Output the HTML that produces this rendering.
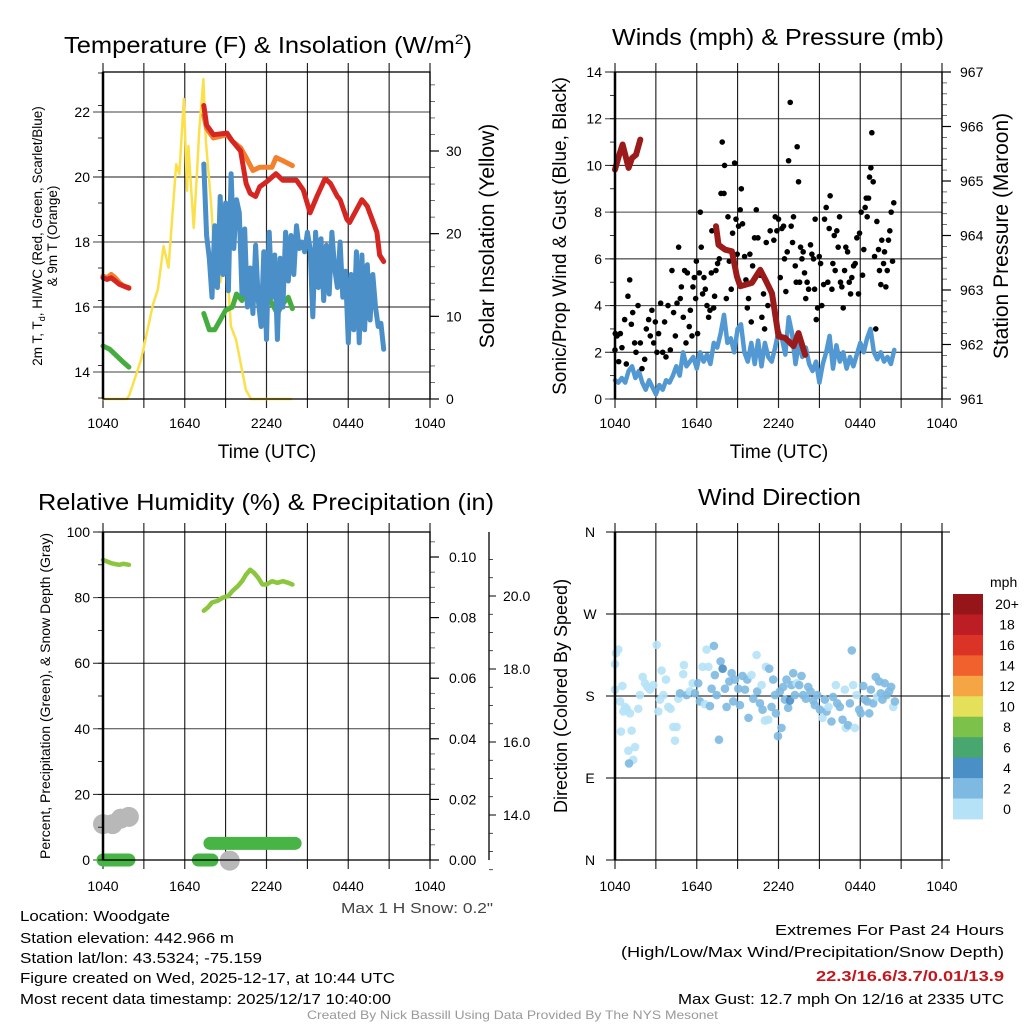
<!DOCTYPE html>
<html><head><meta charset="utf-8"><style>
html,body{margin:0;padding:0;background:#fff;}
svg{display:block;font-family:"Liberation Sans Narrow","Liberation Sans",sans-serif;}
</style></head><body>
<svg id="fig" width="1024" height="1024" viewBox="0 0 1024 1024" xmlns="http://www.w3.org/2000/svg">
<rect width="1024" height="1024" fill="#fff"/>
<g id="g-grid"></g>
<g id="g-data"></g>
<g id="g-axes"></g>
<g id="g-text">
<text x="64" y="53" font-size="23" textLength="408" lengthAdjust="spacingAndGlyphs">Temperature (F) &amp; Insolation (W/m<tspan font-size="14" dy="-9">2</tspan><tspan dy="9">)</tspan></text>
<text x="612" y="45" font-size="23" textLength="332" lengthAdjust="spacingAndGlyphs">Winds (mph) &amp; Pressure (mb)</text>
<text x="38" y="510" font-size="23" textLength="456" lengthAdjust="spacingAndGlyphs">Relative Humidity (%) &amp; Precipitation (in)</text>
<text x="698" y="505" font-size="23" textLength="163" lengthAdjust="spacingAndGlyphs">Wind Direction</text>

<text x="267" y="458" font-size="19" text-anchor="middle">Time (UTC)</text>
<text x="779" y="458" font-size="19" text-anchor="middle">Time (UTC)</text>

<text transform="translate(42,236) rotate(-90)" font-size="13.5" text-anchor="middle">2m T, T<tspan font-size="9" dy="3">d</tspan><tspan dy="-3">, HI/WC (Red, Green, Scarlet/Blue)</tspan></text>
<text transform="translate(57,236) rotate(-90)" font-size="13.5" text-anchor="middle">&amp; 9m T (Orange)</text>
<text transform="translate(494,236) rotate(-90)" font-size="21" text-anchor="middle">Solar Insolation (Yellow)</text>
<text transform="translate(566,236) rotate(-90)" font-size="19" text-anchor="middle">Sonic/Prop Wind &amp; Gust (Blue, Black)</text>
<text transform="translate(1008,236) rotate(-90)" font-size="21" text-anchor="middle">Station Pressure (Maroon)</text>
<text transform="translate(50,696) rotate(-90)" font-size="14" text-anchor="middle">Percent, Precipitation (Green), &amp; Snow Depth (Gray)</text>
<text transform="translate(567,696) rotate(-90)" font-size="18" text-anchor="middle">Direction (Colored By Speed)</text>

<text x="493" y="913" font-size="15" text-anchor="end" fill="#444" textLength="152" lengthAdjust="spacingAndGlyphs">Max 1 H Snow: 0.2"</text>
<text x="20" y="921" font-size="15" textLength="150" lengthAdjust="spacingAndGlyphs">Location: Woodgate</text>
<text x="20" y="943" font-size="15" textLength="214" lengthAdjust="spacingAndGlyphs">Station elevation: 442.966 m</text>
<text x="20" y="963" font-size="15" textLength="242" lengthAdjust="spacingAndGlyphs">Station lat/lon: 43.5324; -75.159</text>
<text x="20" y="983" font-size="15" textLength="375" lengthAdjust="spacingAndGlyphs">Figure created on Wed, 2025-12-17, at 10:44 UTC</text>
<text x="20" y="1004" font-size="15" textLength="371" lengthAdjust="spacingAndGlyphs">Most recent data timestamp: 2025/12/17 10:40:00</text>
<text x="1004" y="935" font-size="15" text-anchor="end" textLength="229" lengthAdjust="spacingAndGlyphs">Extremes For Past 24 Hours</text>
<text x="1004" y="957" font-size="15" text-anchor="end" textLength="383" lengthAdjust="spacingAndGlyphs">(High/Low/Max Wind/Precipitation/Snow Depth)</text>
<text x="1004" y="981" font-size="15" font-weight="bold" fill="#c4161c" text-anchor="end" textLength="188" lengthAdjust="spacingAndGlyphs">22.3/16.6/3.7/0.01/13.9</text>
<text x="1004" y="1004" font-size="15" text-anchor="end" textLength="326" lengthAdjust="spacingAndGlyphs">Max Gust: 12.7 mph On 12/16 at 2335 UTC</text>
<text x="307" y="1019" font-size="12" fill="#999" textLength="411" lengthAdjust="spacingAndGlyphs">Created By Nick Bassill Using Data Provided By The NYS Mesonet</text>
</g>
</svg>
<script>
// ---------- DATA (time in hours since 1040 UTC) ----------
const xTickLabels = ["1040","1640","2240","0440","1040"];
const tempTicks = [14,16,18,20,22];
const solarTicks = [0,10,20,30];
const windTicks = [0,2,4,6,8,10,12,14];
const presTicks = [961,962,963,964,965,966,967];
const rhTicks = [0,20,40,60,80,100];
const precipTicks = ["0.00","0.02","0.04","0.06","0.08","0.10"];
const snowTicks = ["14.0","16.0","18.0","20.0"];
const dirTickLabels = ["N","E","S","W","N"];
const speedBins = ["0","2","4","6","8","10","12","14","16","18","20+"];
const speedColors = ["#b5e2f7","#7eb9e2","#4a8fc5","#48a76e","#7bc14a","#e5e05a","#f6a545","#f0612d","#dc3327","#bd1d24","#951518"];

const tRed1 = [0,0.3,0.6,0.9,1.2,1.5,1.9];
const vRed1 = [16.9,16.85,16.9,16.8,16.7,16.65,16.58];
const tRed2 = [7.4,7.6,8.1,9.1,9.5,10.1,10.5,10.8,11.2,11.5,12.0,12.7,13.2,14.2,14.7,15.2,15.7,16.3,16.7,17.2,17.4,17.9,18.1,19.0,19.4,20.1,20.3,20.6];
const vRed2 = [22.2,21.6,21.3,21.35,21.1,20.8,19.8,19.5,19.4,19.7,19.85,20.1,19.9,19.9,19.6,18.9,19.4,19.95,19.8,19.4,19.3,18.7,18.6,19.3,19.1,18.3,17.6,17.4];
const vOrange1 = [16.95,16.9,17.0,16.9,16.75,16.65,16.6];
const tOrange2 = [7.4,7.6,8.1,9.1,9.5,10.1,10.5,11.0,11.5,12.0,12.4,12.7,13.2,13.9];
const vOrange2 = [21.9,21.5,21.2,21.3,21.1,20.9,20.6,20.2,20.3,20.3,20.3,20.6,20.5,20.35];
const tGreen1 = [0,0.5,1.0,1.5,1.9];
const vGreen1 = [14.8,14.7,14.5,14.3,14.15];
const tGreen2 = [7.4,7.8,8.2,8.6,9.0,9.5,9.8,10.2,10.6,11.0,11.5,12.0,12.4,12.8,13.2,13.6,13.9];
const vGreen2 = [15.8,15.3,15.3,15.6,15.9,16.0,16.4,16.2,16.5,16.2,16.6,16.4,16.1,15.8,16.1,16.3,15.95];
const hiStart = 7.4, hiStep = 0.2;
const vHI = [20.4,18.2,17.5,16.3,18.5,16.6,19.4,17.0,19.2,16.5,20.1,17.8,19.3,18.9,16.4,18.4,16.0,17.2,15.8,17.9,16.2,15.4,17.7,15.0,18.3,16.3,17.6,15.0,17.5,16.0,18.3,16.8,18.2,17.0,18.5,17.8,18.0,17.7,18.3,17.8,15.7,18.3,16.6,18.1,16.2,17.9,16.4,18.3,17.2,16.6,18.0,16.3,17.1,14.9,17.0,15.3,17.7,14.9,17.6,15.3,17.3,15.6,17.0,16.0,15.4,15.5,14.7];
const tSolar = [0,1.75,1.94,2.8,3.66,4.03,4.45,4.81,5.37,5.61,5.93,6.17,6.27,6.66,6.9,7.07,7.37,7.56,7.93,8.29,8.61,9.05,9.39,9.76,10.49,10.86,13.8];
const vSolar = [0,0,0.5,4.8,11.4,13.3,18.5,15.9,28.4,27.2,36.3,25.2,30.6,20.7,27.4,32.6,38.7,31.0,23.8,14.5,14.1,17.7,8.8,7.2,1.1,0,0];

const tPres1 = [0,0.27,0.56,1.0,1.25,1.54,1.86];
const vPres1 = [965.21,965.45,965.67,965.24,965.42,965.48,965.76];
const tPres2 = [7.41,7.6,8.09,8.58,8.95,9.19,10.05,10.66,11.03,11.52,12.0,12.49,13.1,13.47,13.96];
const vPres2 = [964.17,963.83,963.74,963.71,963.25,963.07,963.13,963.37,963.19,962.94,962.15,962.12,961.97,962.21,961.81];
const windStart = 0, windStep = 0.25;
const vWind = [0.8,0.7,0.9,0.7,1.2,1.4,0.9,1.2,0.7,0.4,0.8,0.5,0.2,0.6,0.4,0.8,0.7,1.0,1.4,1.0,2.0,1.4,1.6,1.8,1.3,2.0,1.6,1.9,1.5,2.4,2.2,2.8,3.6,2.4,2.6,2.0,3.0,3.2,2.0,1.6,2.4,1.5,2.5,1.4,2.4,1.8,1.6,2.2,2.9,2.6,1.9,3.5,2.8,1.5,2.4,1.8,2.2,1.5,1.2,1.6,0.7,1.5,2.0,2.7,1.3,2.3,1.6,2.0,1.3,1.8,1.4,1.9,2.4,2.0,2.6,3.0,2.0,1.7,2.0,1.6,1.8,1.5,2.1];
const gustT = [0,0.02,0.15,0.27,0.39,0.51,0.71,0.83,0.95,1.08,1.2,1.3,1.44,1.54,1.69,1.86,1.98,2.18,2.3,2.47,2.59,2.71,2.84,2.96,3.08,3.2,3.35,3.5,3.64,3.74,3.89,4.06,4.18,4.3,4.43,4.55,4.67,4.79,4.87,5.01,5.11,5.21,5.31,5.45,5.53,5.65,5.72,5.82,5.92,5.97,6.06,6.19,6.26,6.33,6.43,6.53,6.63,6.75,6.87,6.97,7.07,7.11,7.24,7.31,7.41,7.53,7.65,7.78,7.87,8.0,8.04,8.17,8.29,8.39,8.53,8.63,8.78,8.88,8.97,9.07,9.19,9.27,9.36,9.51,9.61,9.71,9.8,9.9,10.0,10.1,10.24,10.37,10.49,10.66,10.78,10.9,10.98,11.1,11.22,11.39,11.52,11.66,11.76,11.88,12.0,12.13,12.25,12.37,12.44,12.54,12.64,12.74,12.86,12.93,13.03,13.1,13.23,13.3,13.37,13.47,13.55,13.62,13.72,13.81,13.91,14.0,14.1,14.21,14.35,14.45,14.57,14.65,14.69,14.77,14.87,14.99,15.09,15.18,15.31,15.38,15.5,15.62,15.72,15.79,15.92,15.99,16.09,16.16,16.28,16.38,16.48,16.55,16.65,16.75,16.85,16.94,17.07,17.19,17.29,17.38,17.51,17.63,17.75,17.87,17.95,18.07,18.17,18.26,18.36,18.44,18.51,18.61,18.68,18.78,18.85,18.95,19.05,19.14,19.22,19.34,19.41,19.51,19.58,19.71,19.78,19.88,19.98,20.07,20.17,20.27,20.37,20.46];
const gustV = [2.1,2.8,2.7,1.6,2.8,2.2,3.4,1.5,4.4,5.1,3.2,3.7,2.4,2.0,4.0,2.4,1.3,1.7,3.0,3.4,2.7,3.8,2.4,3.3,2.0,2.8,4.1,2.0,3.3,1.8,4.0,2.1,5.5,3.7,2.7,4.1,6.5,4.3,4.8,3.5,5.5,2.4,5.4,3.1,3.8,2.7,4.8,5.2,4.3,5.9,2.8,5.4,8.0,6.5,4.5,5.2,4.7,4.0,3.5,3.8,5.4,7.2,3.9,4.4,5.5,5.8,6.0,8.8,11.0,8.8,10.0,4.3,7.8,5.9,4.7,7.1,10.1,7.7,6.2,7.4,8.1,9.0,7.5,6.1,5.1,3.9,4.3,6.2,3.3,5.7,6.9,8.1,6.9,5.3,3.5,4.5,3.0,6.7,4.0,7.2,4.5,6.8,7.8,7.2,7.7,5.2,7.3,7.4,6.0,4.6,6.3,10.2,12.7,7.4,6.7,7.8,5.7,5.0,10.8,9.3,5.0,6.5,6.0,6.3,5.4,4.3,5.0,4.7,6.6,6.2,6.0,4.7,7.7,3.4,3.9,6.1,5.8,4.0,4.9,7.7,8.2,5.0,7.3,8.7,4.7,5.8,7.0,5.5,7.2,6.5,7.8,5.0,4.8,3.9,5.5,6.5,6.3,5.0,4.5,5.2,5.7,5.8,6.9,4.5,7.1,8.0,5.3,6.4,8.2,8.6,7.8,8.6,9.5,9.9,11.4,9.3,6.1,3.0,7.6,6.4,5.5,4.9,6.8,5.8,6.3,4.8,5.5,6.8,7.2,8.0,5.9,8.4];

const tRH1 = [0,0.3,0.6,0.9,1.2,1.5,1.9];
const vRH1 = [91.5,91,90.5,90.2,90,90.3,90];
const tRH2 = [7.4,7.7,8.0,8.4,8.8,9.2,9.5,9.9,10.2,10.5,10.8,11.1,11.4,11.7,12.0,12.4,12.8,13.2,13.6,13.9];
const vRH2 = [76,77,78.5,79,80,80.5,82,83.5,85,87,88.5,87.5,86,84,84,85,84.5,85,84.5,84];
const precipT0 = [0,7.0,7.85];
const precipT1 = [1.9,8.0,14.1];
const precipV = [0,0,0.0055];
const snowT = [0,0.7,1.3,1.9,9.3];
const snowV = [13.75,13.75,13.9,13.95,12.75];

const dirT = [0,0.07,0.24,0,0.37,0.54,0.61,0.73,0.86,1.1,0.44,1.22,0.98,1.47,1.34,1.03,1.71,1.83,2.03,2.2,2.37,2.57,2.81,3.06,3.18,3.3,3.42,3.55,3.74,3.91,4.08,4.28,4.4,4.52,4.65,4.77,5.01,5.06,5.26,5.5,5.7,5.87,6.11,6.23,6.43,6.6,6.72,6.85,6.97,7.09,7.26,7.33,7.46,7.63,7.75,7.9,8.07,8.19,8.39,8.56,8.68,8.8,9.05,9.17,9.36,9.54,9.71,9.8,10.02,10.15,10.39,10.44,10.64,10.76,10.83,11.0,11.08,11.25,11.32,11.49,11.61,11.74,11.81,11.96,12.1,12.22,12.35,12.47,12.59,12.71,12.84,12.96,13.08,13.2,13.33,13.52,13.69,13.81,14.01,14.18,14.35,14.55,14.67,14.84,15.04,15.23,15.4,15.53,15.67,15.89,16.01,16.21,16.31,16.5,16.7,16.87,16.94,17.11,17.24,17.38,17.48,17.6,17.73,17.92,18.04,18.22,18.34,18.51,18.66,18.78,18.95,19.14,19.24,19.39,19.51,19.63,19.8,19.93,20.12,20.27,20.42,20.54];
const dirV = [215,227,231,187,174,191,163,168,166,161,141,142,120,124,110,106,166,181,201,194,190,187,192,236,163,176,208,181,198,168,166,146,131,146,177,183,204,214,181,185,194,183,194,174,212,171,231,212,169,188,235,203,181,132,218,210,188,168,196,205,174,198,188,170,202,187,198,156,203,177,225,185,172,192,165,153,212,154,210,168,198,181,161,136,185,145,190,176,198,167,175,192,205,181,194,192,202,181,177,190,185,175,170,181,165,156,176,163,168,152,179,192,172,168,154,187,145,148,172,230,192,145,181,165,161,191,176,174,161,187,172,201,179,196,183,176,194,181,185,190,168,174];
const dirS = [1,1,1,1,1,1,1,1,1,1,1,1,1,1,1,3,1,1,1,1,1,1,1,1,1,1,1,1,1,1,1,1,1,1,1,3,1,1,3,1,1,3,3,3,1,1,1,1,3,3,3,3,3,3,3,4.5,3,3,3,3,3,3,3,3,3,3,3,3,1,3,1,3,3,1,3,1,1,1,3,3,3,3,3,3,3,3,3,3,3,3,4.5,3,3,3,1,3,3,3,3,3,3,3,3,3,3,1,3,3,1,3,3,1,3,3,3,1,1,3,3,3,1,1,1,3,3,3,3,3,3,3,3,3,1,3,3,3,3,3,3,3,1,3,3];

// ---------- RENDER ----------
const NS = "http://www.w3.org/2000/svg";
const gGrid = document.getElementById('g-grid');
const gData = document.getElementById('g-data');
const gAxes = document.getElementById('g-axes');
function mk(tag, attrs, parent){ const e=document.createElementNS(NS,tag); for(const k in attrs) e.setAttribute(k,attrs[k]); parent.appendChild(e); return e; }
function txt(s, attrs, parent){ const e=mk('text',attrs,parent); e.textContent=s; return e; }
function scale(d0,d1,r0,r1){ return v => r0 + (v-d0)*(r1-r0)/(d1-d0); }

const W = 327, HOURS = 24;
function panelFrame(name, x0, y0, y1, xlabY){
  const xs = scale(0,HOURS,x0,x0+W);
  for(let i=0;i<=8;i++){
    const x = xs(i*3);
    const l = mk('line',{x1:x,x2:x,y1:y0-9,y2:y1+9,stroke:'#000','stroke-width':(i%2===0?1.2:1),'stroke-opacity':(i%2===0?0.85:1)},gGrid);
    
    
  }
  xTickLabels.forEach((s,i)=>{
    const t = txt(s,{x:xs(i*6),y:xlabY,'font-size':14,'text-anchor':'middle'},gAxes);
    
    
  });
  const b = mk('rect',{x:x0,y:y0,width:W,height:y1-y0,fill:'none',stroke:'#000','stroke-width':1.3},gAxes);
  
  
  mk('line',{x1:x0,x2:x0,y1:y0,y2:y1,stroke:'#000','stroke-width':2.5},gAxes);
  return xs;
}
function leftAxis(name, x0, ys, ticks, labels, minorStep, dmin, dmax){
  ticks.forEach((v,i)=>{
    const y = ys(v);
    const l = mk('line',{x1:x0-10,x2:x0+W,y1:y,y2:y,stroke:'#000','stroke-width':1,'stroke-opacity':(i%2?0.9:0.75)},gGrid);
    
    
    const t = txt(labels?labels[i]:String(v),{x:x0-13,y:y+5,'font-size':14,'text-anchor':'end'},gAxes);
    
    
  });
  if(minorStep){ for(let v=dmin; v<=dmax+1e-9; v+=minorStep){ const y=ys(v); mk('line',{x1:x0-5,x2:x0,y1:y,y2:y,stroke:'#000','stroke-width':0.8},gAxes);} }
}
function rightAxis(name, x1, ys, ticks, labels, minorStep, dmin, dmax, labX){
  ticks.forEach((v,i)=>{
    const y = ys(v);
    mk('line',{x1:x1,x2:x1+9,y1:y,y2:y,stroke:'#000','stroke-width':1.2},gAxes);
    const t = txt(labels?labels[i]:String(v),{x:labX,y:y+5,'font-size':14},gAxes);
    
    
  });
  for(let v=dmin; v<=dmax+1e-9; v+=minorStep){ mk('line',{x1:x1,x2:x1+5,y1:ys(v),y2:ys(v),stroke:'#000','stroke-width':0.8,'stroke-opacity':0.7},gAxes); }
}
function line(name, ts, vs, xs, ys, color, w, op){
  const d = ts.map((t,i)=>(i?'L':'M')+xs(t).toFixed(1)+','+ys(vs[i]).toFixed(1)).join('');
  const p = mk('path',{d:d,fill:'none',stroke:color,'stroke-width':w,'stroke-linejoin':'round','stroke-linecap':'round','stroke-opacity':op||1},gData);
  
  
  return p;
}
function seq(start, step, n){ const a=[]; for(let i=0;i<n;i++) a.push(start+i*step); return a; }

// Panel 1: Temperature
(function(){
  const x0=103,y0=72,y1=399;
  const xs = panelFrame('temp',x0,y0,y1,428);
  const ys = scale(14,22,372,112);
  const ysol = scale(0,30,399,151);
  leftAxis('temp',x0,ys,tempTicks,null,1,13.2,23.2);
  rightAxis('solar',x0+W,ysol,solarTicks,null,2,0,38,446);
  line('solar-insolation-line',tSolar,vSolar,xs,ysol,'#fbe04a',2.5);
  line('dewpoint-line-1',tGreen1,vGreen1,xs,ys,'#45ad3f',5);
  line('dewpoint-line-2',tGreen2,vGreen2,xs,ys,'#45ad3f',5);
  line('heat-index-line',seq(hiStart,hiStep,vHI.length),vHI,xs,ys,'#4a8fc8',5);
  line('temp-9m-line-1',tRed1,vOrange1,xs,ys,'#f3802c',5);
  line('temp-9m-line-2',tOrange2,vOrange2,xs,ys,'#f3802c',5);
  line('temp-2m-line-1',tRed1,vRed1,xs,ys,'#d62622',5);
  line('temp-2m-line-2',tRed2,vRed2,xs,ys,'#d62622',5);
})();

// Panel 2: Winds & Pressure
(function(){
  const x0=615,y0=72,y1=399;
  const xs = panelFrame('winds',x0,y0,y1,428);
  const ys = scale(0,14,399,72);
  const yp = scale(961,967,399,72);
  leftAxis('winds',x0,ys,windTicks,null,1,0,14);
  rightAxis('pressure',x0+W,yp,presTicks,null,0.2,961,967,960);
  line('wind-speed-line',seq(windStart,windStep,vWind.length),vWind,xs,ys,'#5298d2',4.5);
  gustT.forEach((t,i)=>{
    const c = mk('circle',{cx:xs(t),cy:ys(gustV[i]),r:2.8,fill:'#000'},gData);
    
    
  });
  line('pressure-line-1',tPres1,vPres1,xs,yp,'#9b1a1a',6);
  line('pressure-line-2',tPres2,vPres2,xs,yp,'#9b1a1a',6);
})();

// Panel 3: RH & Precip
(function(){
  const x0=103,y0=532,y1=860;
  const xs = panelFrame('humidity',x0,y0,y1,891);
  const ys = scale(0,100,860,532);
  const ypr = scale(0,0.1,860,557);
  const ysn = scale(14,16,815,742);
  leftAxis('humidity',x0,ys,rhTicks,null,10,0,100);
  rightAxis('precip',x0+W,ypr,precipTicks.map(Number),precipTicks,0.005,0,0.105,449);
  mk('line',{x1:489,x2:489,y1:532,y2:860,stroke:'#000','stroke-width':1.3},gAxes);
  snowTicks.map(Number).forEach((v,i)=>{
    mk('line',{x1:489,x2:496,y1:ysn(v),y2:ysn(v),stroke:'#000','stroke-width':1},gAxes);
    const t = txt(snowTicks[i],{x:503,y:ysn(v)+5,'font-size':14},gAxes);
    
    
  });
  for(let v=12.5; v<=21; v+=0.5){ mk('line',{x1:489,x2:493,y1:ysn(v),y2:ysn(v),stroke:'#000','stroke-width':0.7},gAxes); }
  snowT.forEach((t,i)=>{
    const c = mk('circle',{cx:xs(t),cy:ysn(snowV[i]),r:10,fill:'#b8b8b8'},gData);
    
    
  });
  precipT0.forEach((t,i)=>{
    const l = mk('line',{x1:xs(t),x2:xs(precipT1[i]),y1:ypr(precipV[i]),y2:ypr(precipV[i]),stroke:'#48b446','stroke-width':13,'stroke-linecap':'round'},gData);
    
    
  });
  line('rh-line-1',tRH1,vRH1,xs,ys,'#8cc63f',4.5);
  line('rh-line-2',tRH2,vRH2,xs,ys,'#8cc63f',4.5);
})();

// Panel 4: Wind direction
(function(){
  const x0=615,y0=532,y1=860;
  const xs = panelFrame('direction',x0,y0,y1,891);
  const ys = scale(0,360,860,532);
  dirTickLabels.forEach((s,i)=>{
    const y = ys(i*90);
    mk('line',{x1:x0-9,x2:x0+W+8,y1:y,y2:y,stroke:'#000','stroke-width':1},gGrid);
    const t = txt(s,{x:x0-25,y:y+5,'font-size':14,'text-anchor':'middle'},gAxes);
    
    
  });
  dirT.forEach((t,i)=>{
    const bin = Math.min(10, Math.floor(dirS[i]/2));
    const c = mk('circle',{cx:xs(t),cy:ys(dirV[i]),r:4.3,fill:speedColors[bin],'fill-opacity':0.9},gData);
    
    
  });
  // colorbar
  const cbTop=594, cbH=225/11;
  const unit = txt('mph',{x:990,y:587,'font-size':14},gAxes);
  
  
  speedBins.forEach((s,i)=>{
    const k = 10-i;
    const r = mk('rect',{x:953,y:cbTop+i*cbH,width:30,height:cbH+0.4,fill:speedColors[k]},gAxes);
    
    
    const t = txt(speedBins[k],{x:1007,y:cbTop+i*cbH+cbH/2+5,'font-size':14,'text-anchor':'middle'},gAxes);
    
    
  });
})();
</script>
</body></html>
